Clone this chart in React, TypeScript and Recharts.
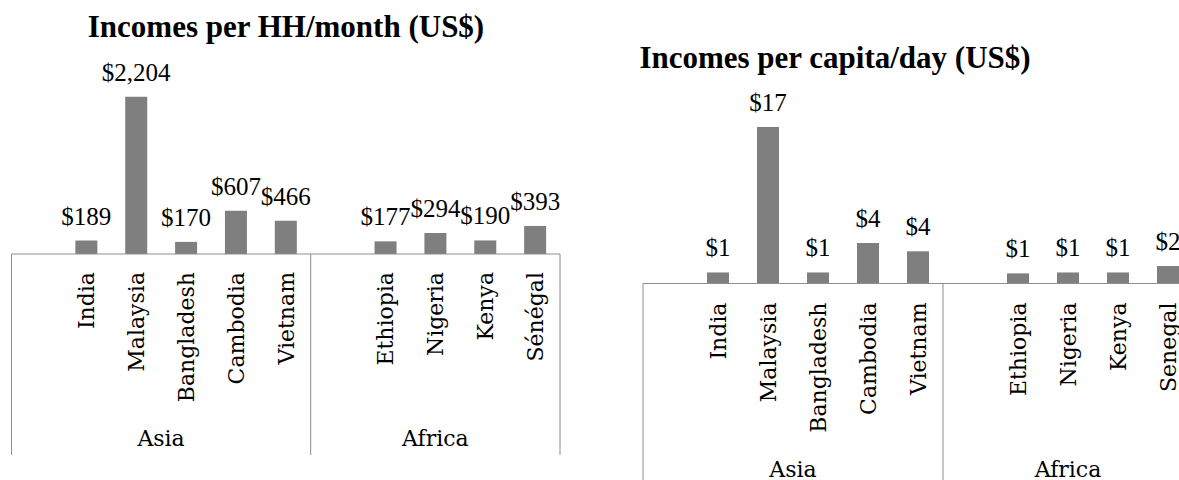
import React from "react";
import { BarChart, Bar, XAxis, YAxis, LabelList } from "recharts";

const GROUPS = ["Asia", "Africa"];
const ASIA_COUNTRIES = ["India", "Malaysia", "Bangladesh", "Cambodia", "Vietnam"];
const AFRICA_COUNTRIES_HH = ["Ethiopia", "Nigeria", "Kenya", "Sénégal"];
const AFRICA_COUNTRIES_DAY = ["Ethiopia", "Nigeria", "Kenya", "Senegal"];
const HH_MONTH_ASIA = [189, 2204, 170, 607, 466];
const HH_MONTH_AFRICA = [177, 294, 190, 393];
const DAY_ASIA = [1.2, 17.0, 1.2, 4.4, 3.5];
const DAY_AFRICA = [1.1, 1.2, 1.2, 1.9];

const NUM_FONT = "'Liberation Serif', 'Times New Roman', serif";
const CAT_FONT = "'DejaVu Serif', 'Liberation Serif', serif";
const LINE = "#8e8e8e";
const BAR = "#7f7f7f";

interface Row {
  key: string;
  name: string;
  group: string;
  first: boolean;
  last: boolean;
  size: number;
  value: number | null;
}

// every group starts with an empty slot, like the sheet the charts came from
function buildRows(names: string[][], values: number[][]): Row[] {
  const rows: Row[] = [];
  GROUPS.forEach((g, gi) => {
    const size = names[gi].length + 1;
    rows.push({ key: `${g}-blank`, name: "", group: g, first: true, last: false, size, value: null });
    names[gi].forEach((n, i) =>
      rows.push({
        key: `${g}-${n}`,
        name: n,
        group: g,
        first: false,
        last: gi === GROUPS.length - 1 && i === names[gi].length - 1,
        size,
        value: values[gi][i],
      })
    );
  });
  return rows;
}

const hhRows = buildRows([ASIA_COUNTRIES, AFRICA_COUNTRIES_HH], [HH_MONTH_ASIA, HH_MONTH_AFRICA]);
const dayRows = buildRows([ASIA_COUNTRIES, AFRICA_COUNTRIES_DAY], [DAY_ASIA, DAY_AFRICA]);

const CategoryTick = (props: any) => {
  const { x, y, payload, rows, slot, lineLen, nameGap, groupGap } = props;
  const row: Row | undefined = rows.find((r: Row) => r.key === payload.value);
  if (!row) return null;
  const left = x - slot / 2;
  return (
    <g>
      {row.name && (
        <text
          x={x}
          y={y + nameGap}
          transform={`rotate(-90 ${x} ${y + nameGap})`}
          textAnchor="end"
          dy="0.36em"
          fontFamily={CAT_FONT}
          fontSize={22}
          fill="#000"
        >
          {row.name}
        </text>
      )}
      {row.first && <line x1={left} x2={left} y1={y} y2={y + lineLen} stroke={LINE} />}
      {row.first && (
        <text
          x={left + (row.size * slot) / 2}
          y={y + groupGap}
          textAnchor="middle"
          fontFamily={CAT_FONT}
          fontSize={22}
          fill="#000"
        >
          {row.group}
        </text>
      )}
      {row.last && <line x1={x + slot / 2} x2={x + slot / 2} y1={y} y2={y + lineLen} stroke={LINE} />}
    </g>
  );
};

interface ChartProps {
  rows: Row[];
  yMax: number;
  width: number;
  height: number;
  plotLeft: number;
  plotRight: number;
  plotTop: number;
  axisY: number;
  lineLen: number;
  nameGap: number;
  groupGap: number;
  format: (v: number) => string;
}

const IncomeChart: React.FC<ChartProps> = ({
  rows,
  yMax,
  width,
  height,
  plotLeft,
  plotRight,
  plotTop,
  axisY,
  lineLen,
  nameGap,
  groupGap,
  format,
}) => {
  const slot = (plotRight - plotLeft) / rows.length;
  return (
    <BarChart
      width={width}
      height={height}
      data={rows}
      margin={{ top: plotTop, left: plotLeft, right: width - plotRight, bottom: 0 }}
    >
      <YAxis hide domain={[0, yMax]} />
      <XAxis
        dataKey="key"
        height={height - axisY}
        interval={0}
        tickSize={0}
        tickMargin={0}
        tickLine={false}
        axisLine={{ stroke: LINE }}
        tick={(p: any) => (
          <CategoryTick {...p} rows={rows} slot={slot} lineLen={lineLen} nameGap={nameGap} groupGap={groupGap} />
        )}
      />
      <Bar dataKey="value" fill={BAR} barSize={22} isAnimationActive={false}>
        <LabelList
          dataKey="value"
          position="top"
          offset={16}
          fontFamily={NUM_FONT}
          fontSize={25}
          fill="#000"
          formatter={(v: any) => (v == null ? "" : format(Number(v)))}
        />
      </Bar>
    </BarChart>
  );
};

export default function App() {
  return (
    <div
      style={{
        position: "fixed",
        left: 0,
        top: 0,
        width: 1179,
        height: 480,
        overflow: "hidden",
        background: "#fff",
      }}
    >
      <div style={{ position: "absolute", left: 0, top: 0 }}>
        <IncomeChart
          rows={hhRows}
          yMax={2500}
          width={580}
          height={470}
          plotLeft={11.5}
          plotRight={560}
          plotTop={75.6}
          axisY={254}
          lineLen={201}
          nameGap={18}
          groupGap={192}
          format={(v) => "$" + Math.round(v).toLocaleString("en-US")}
        />
      </div>
      <div style={{ position: "absolute", left: 600, top: 0 }}>
        <IncomeChart
          rows={dayRows}
          yMax={20}
          width={600}
          height={480}
          plotLeft={43}
          plotRight={593}
          plotTop={99.5}
          axisY={283.5}
          lineLen={200}
          nameGap={19}
          groupGap={193}
          format={(v) => "$" + Math.round(v)}
        />
      </div>
      <svg width={1179} height={480} style={{ position: "absolute", left: 0, top: 0, pointerEvents: "none" }}>
        <text x={286} y={37} textAnchor="middle" fontFamily={NUM_FONT} fontWeight="bold" fontSize={31} fill="#000">
          Incomes per HH/month (US$)
        </text>
        <text x={835} y={68} textAnchor="middle" fontFamily={NUM_FONT} fontWeight="bold" fontSize={31} fill="#000">
          Incomes per capita/day (US$)
        </text>
      </svg>
    </div>
  );
}
